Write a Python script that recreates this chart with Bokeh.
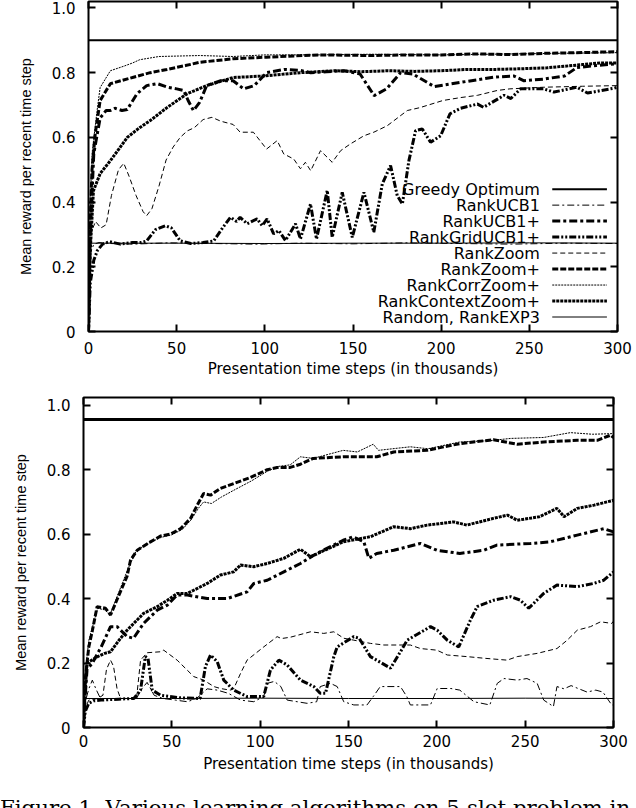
from bokeh.plotting import figure
from bokeh.layouts import column
from bokeh.models import Range1d, LinearAxis, FixedTicker, CustomJSTickFormatter, Div
from bokeh.core.properties import value
from bokeh.embed import file_html
from bokeh.resources import INLINE

# x = presentation time steps (thousands), y = mean reward per recent time step
names = ["Greedy Optimum", "RankUCB1", "RankUCB1+", "RankGridUCB1+", "RankZoom",
         "RankZoom+", "RankCorrZoom+", "RankContextZoom+", "Random, RankEXP3"]
x_ticks = [0, 50, 100, 150, 200, 250, 300]
y_ticks = [0, 0.2, 0.4, 0.6, 0.8, 1.0]
caption = "Figure 1. Various learning algorithms on 5-slot problem in"

# ---- top panel ----
top_greedy_x = [0, 300]
top_greedy_y = [0.9, 0.9]

top_ucb1_x = [0, 1, 3, 6, 12, 25, 45, 70, 95, 120, 150, 180, 210, 240, 270, 300]
top_ucb1_y = [0.0, 0.24, 0.27, 0.275, 0.272, 0.27, 0.274, 0.272, 0.27, 0.273, 0.271, 0.274, 0.272, 0.27, 0.273, 0.272]

top_ucb1p_x = [0, 1, 3, 6.6, 10, 12.4, 15, 19, 22, 27.5, 33, 39, 45, 50, 54, 56.5, 59.5, 63, 67, 75,
               82, 88, 94, 101, 111, 120, 126, 135, 145, 154, 162, 169, 177, 184, 196, 211, 230, 241, 247, 258,
               270, 277, 288, 300]
top_ucb1p_y = [0.0, 0.3, 0.55, 0.66, 0.683, 0.683, 0.69, 0.683, 0.686, 0.735, 0.76, 0.766, 0.755, 0.75, 0.745, 0.714, 0.683, 0.708, 0.76, 0.775,
               0.775, 0.75, 0.76, 0.80, 0.81, 0.807, 0.80, 0.803, 0.806, 0.796, 0.729, 0.75, 0.80, 0.796, 0.757, 0.77, 0.786, 0.79, 0.775, 0.78,
               0.79, 0.816, 0.822, 0.828]

top_grid_x = [0, 1, 3, 5, 8, 12, 18, 25, 30, 33, 38, 43.6, 47, 52, 58, 65, 71, 76, 80.5, 84,
              86, 90, 95.6, 98.5, 101.3, 105, 108, 111.7, 117.4, 120.2, 125.9, 129.3, 135.4, 138.2, 143.9, 149.6, 156.2, 161.8, 166.6, 171.3,
              175.1, 178, 181.7, 185.5, 189.3, 194, 199.7, 205, 211, 220.6, 224, 235.7, 239.5, 245, 258, 264, 277, 283, 298, 300]
top_grid_y = [0.0, 0.15, 0.22, 0.25, 0.27, 0.278, 0.27, 0.275, 0.275, 0.28, 0.315, 0.327, 0.32, 0.28, 0.272, 0.275, 0.28, 0.32, 0.353, 0.34,
              0.353, 0.333, 0.348, 0.327, 0.348, 0.302, 0.312, 0.281, 0.333, 0.286, 0.394, 0.286, 0.436, 0.291, 0.43, 0.291, 0.43, 0.307, 0.456, 0.513,
              0.42, 0.394, 0.528, 0.621, 0.626, 0.585, 0.605, 0.673, 0.69, 0.703, 0.693, 0.73, 0.72, 0.75, 0.75, 0.74, 0.755, 0.737, 0.752, 0.755]

top_zoom_x = [0, 0.5, 1, 4, 7, 10, 13, 17, 20, 23, 27, 31, 33, 36, 40, 44, 48, 52, 56, 60,
              65, 70, 75, 82, 86, 93.5, 101, 107, 110.7, 116.4, 120.2, 123, 126, 131.6, 138.2, 143, 148.6, 156.2, 161.8, 169.4,
              180.8, 188, 201, 211, 220.6, 231.8, 239, 258, 280, 300]
top_zoom_y = [0.0, 0.2, 0.3, 0.34, 0.32, 0.33, 0.42, 0.5, 0.52, 0.48, 0.42, 0.37, 0.358, 0.38, 0.45, 0.53, 0.57, 0.6, 0.62, 0.63,
              0.655, 0.662, 0.65, 0.64, 0.616, 0.616, 0.564, 0.59, 0.549, 0.533, 0.503, 0.523, 0.497, 0.559, 0.523, 0.559, 0.58, 0.605, 0.616, 0.636,
              0.683, 0.692, 0.714, 0.723, 0.73, 0.745, 0.75, 0.755, 0.758, 0.76]

top_zoomp_x = [0, 1, 2, 3.8, 6.6, 12.4, 25.5, 35, 44.5, 55, 63, 82, 101, 131, 160, 180, 200, 220, 240, 260, 280, 300]
top_zoomp_y = [0.0, 0.35, 0.5, 0.61, 0.714, 0.766, 0.786, 0.80, 0.81, 0.822, 0.832, 0.843, 0.848, 0.855, 0.853, 0.855, 0.855, 0.858, 0.856, 0.86, 0.862, 0.865]

top_corr_x = [0, 1, 2, 4.8, 6.6, 12.4, 20, 25, 29, 40, 63, 82, 100, 130, 160, 200, 240, 270, 300]
top_corr_y = [0.0, 0.4, 0.55, 0.68, 0.754, 0.806, 0.82, 0.83, 0.84, 0.85, 0.853, 0.85, 0.855, 0.855, 0.857, 0.855, 0.858, 0.86, 0.862]

top_ctx_x = [0, 1, 2.8, 6.6, 12.4, 22, 29, 35, 44.5, 56, 67, 82, 100, 120, 140, 155, 170, 185, 200, 215,
             230, 245, 260, 270, 280, 290, 300]
top_ctx_y = [0.0, 0.25, 0.435, 0.488, 0.528, 0.6, 0.63, 0.652, 0.692, 0.735, 0.76, 0.785, 0.79, 0.80, 0.806, 0.803, 0.806, 0.804, 0.806, 0.81,
             0.81, 0.812, 0.815, 0.82, 0.825, 0.83, 0.83]

top_rand_x = [0, 50, 100, 150, 200, 250, 300]
top_rand_y = [0.273, 0.273, 0.272, 0.273, 0.273, 0.274, 0.273]

# ---- bottom panel ----
bot_greedy_x = [0, 300]
bot_greedy_y = [0.956, 0.956]

bot_ucb1_x = [0, 1, 3, 5, 7, 9.6, 20, 30, 33, 36, 40, 45, 52, 58.8, 64, 70, 75.7, 82, 88.9, 96.4,
              102, 104, 108, 111.7, 115.3, 126.6, 132, 134, 139.8, 143.6, 147.3, 153, 160.5, 164, 168, 179.4, 183, 185, 196.4, 200.2,
              208, 213, 221, 230, 234.2, 238, 245.5, 251, 256.8, 260.5, 266, 268, 272, 276, 280, 285, 290, 294, 299, 300]
bot_ucb1_y = [0.0, 0.08, 0.12, 0.147, 0.12, 0.09, 0.09, 0.09, 0.12, 0.14, 0.1, 0.09, 0.085, 0.08, 0.09, 0.12, 0.116, 0.106, 0.085, 0.08,
              0.096, 0.137, 0.143, 0.127, 0.085, 0.075, 0.08, 0.127, 0.137, 0.127, 0.08, 0.07, 0.07, 0.096, 0.127, 0.127, 0.096, 0.07, 0.07, 0.121,
              0.121, 0.116, 0.08, 0.07, 0.137, 0.152, 0.147, 0.152, 0.137, 0.085, 0.065, 0.127, 0.12, 0.13, 0.121, 0.11, 0.116, 0.11, 0.07, 0.07]

bot_ucb1p_x = [0, 1, 2, 5, 10, 15.3, 19, 24.7, 28.3, 34, 41.7, 47.5, 53, 58.8, 70, 81.3, 92.6, 96.4, 104, 113.4,
               122.8, 132, 147, 152.6, 158.7, 161.5, 166, 175.6, 190.7, 200, 213, 226.6, 234, 253, 264, 279.5, 294.5, 300]
bot_ucb1p_y = [0.0, 0.1, 0.18, 0.2, 0.25, 0.313, 0.313, 0.282, 0.277, 0.323, 0.364, 0.38, 0.411, 0.411, 0.4, 0.4, 0.421, 0.447, 0.457, 0.483,
               0.509, 0.54, 0.581, 0.592, 0.576, 0.525, 0.54, 0.55, 0.571, 0.55, 0.54, 0.55, 0.566, 0.571, 0.576, 0.597, 0.617, 0.607]

bot_grid_x = [0, 1, 3, 6, 10, 20, 28.5, 32.3, 35, 36.5, 38.9, 43.6, 55, 66, 69, 71.9, 75.7, 79.4, 85, 92.6,
              102, 105.8, 110.6, 115.3, 122.8, 130.4, 134, 137, 141.7, 143.6, 153, 156, 162.4, 173.8, 179.4, 183.2, 196.4, 200.2, 205.9, 212.4,
              219, 222.8, 232.2, 241.7, 247.3, 252, 260.5, 268, 279.5, 288.8, 294.5, 300]
bot_grid_y = [0.0, 0.05, 0.075, 0.083, 0.085, 0.088, 0.09, 0.116, 0.22, 0.215, 0.116, 0.1, 0.092, 0.09, 0.189, 0.225, 0.204, 0.147, 0.116, 0.096,
              0.096, 0.178, 0.209, 0.194, 0.147, 0.127, 0.106, 0.106, 0.22, 0.25, 0.282, 0.277, 0.22, 0.184, 0.235, 0.271, 0.313, 0.302, 0.271, 0.25,
              0.333, 0.375, 0.395, 0.406, 0.395, 0.37, 0.416, 0.442, 0.437, 0.447, 0.457, 0.483]

bot_zoom_x = [0, 1, 3, 8, 11, 13, 15.3, 17, 19, 21, 30, 32.3, 36, 43.6, 45.4, 53, 62.4, 68, 73.8, 77.5,
              83, 85, 88.9, 92.6, 102, 109.6, 112, 117, 128.5, 136, 141.7, 147.3, 153, 162.4, 170, 185, 190.7, 200, 205.9, 217,
              226.6, 239.8, 245.5, 256.8, 268, 273.8, 279.5, 287, 292.7, 299, 300]
bot_zoom_y = [0.0, 0.06, 0.085, 0.09, 0.1, 0.18, 0.209, 0.19, 0.12, 0.09, 0.09, 0.209, 0.232, 0.235, 0.24, 0.209, 0.158, 0.147, 0.127, 0.121,
              0.116, 0.12, 0.168, 0.209, 0.25, 0.282, 0.276, 0.28, 0.297, 0.292, 0.297, 0.277, 0.271, 0.261, 0.256, 0.256, 0.245, 0.24, 0.225, 0.22,
              0.215, 0.209, 0.22, 0.23, 0.245, 0.271, 0.302, 0.313, 0.328, 0.323, 0.33]

bot_zoomp_x = [0, 1, 3, 5, 7.7, 12.5, 15.3, 20, 24.7, 26.6, 30.4, 37.9, 43.6, 49.2, 55, 60.6, 64.4, 68, 71.9, 77.5,
               85, 94.5, 104, 109.6, 117, 122.8, 130, 147, 166, 175.6, 194.5, 213, 232, 245.5, 260.5, 279.5, 290.8, 298.3, 300]
bot_zoomp_y = [0.0, 0.15, 0.25, 0.3, 0.375, 0.37, 0.349, 0.41, 0.47, 0.519, 0.55, 0.576, 0.594, 0.6, 0.617, 0.649, 0.69, 0.726, 0.721, 0.742,
               0.757, 0.776, 0.8, 0.807, 0.807, 0.817, 0.835, 0.84, 0.84, 0.855, 0.86, 0.881, 0.893, 0.879, 0.886, 0.891, 0.891, 0.907, 0.9]

bot_corr_x = [0, 1, 3, 5, 8, 12, 15, 20, 25, 30, 38, 44, 50, 56, 61, 65, 68, 72.4, 78, 85,
              95, 104, 110, 117, 122.8, 130, 147, 155, 164, 167, 175, 185, 195, 213, 230, 241.7, 260.5, 275.6, 288, 300]
bot_corr_y = [0.0, 0.17, 0.27, 0.31, 0.37, 0.365, 0.35, 0.42, 0.49, 0.55, 0.575, 0.59, 0.598, 0.615, 0.645, 0.68, 0.70, 0.695, 0.715, 0.736,
              0.765, 0.795, 0.81, 0.815, 0.84, 0.835, 0.86, 0.855, 0.879, 0.86, 0.865, 0.871, 0.865, 0.886, 0.89, 0.897, 0.9, 0.915, 0.91, 0.912]

bot_ctx_x = [0, 1, 2, 5, 8, 12, 15.3, 20, 24.7, 34, 41.7, 47.5, 53, 58.8, 62.4, 70, 77.5, 85, 88.9, 96.4,
             104, 113.4, 122.8, 128.5, 147, 162.4, 175.6, 185, 194.5, 209.6, 217, 232, 240, 245.5, 258, 268, 272, 279.5, 289, 300]
bot_ctx_y = [0.0, 0.12, 0.2, 0.21, 0.22, 0.23, 0.235, 0.27, 0.302, 0.354, 0.375, 0.395, 0.416, 0.416, 0.426, 0.447, 0.473, 0.483, 0.504, 0.499,
             0.509, 0.525, 0.553, 0.53, 0.576, 0.592, 0.623, 0.617, 0.628, 0.638, 0.628, 0.649, 0.659, 0.643, 0.654, 0.68, 0.654, 0.68, 0.69, 0.705]

bot_rand_x = [0, 50, 100, 150, 200, 250, 300]
bot_rand_y = [0.09, 0.09, 0.091, 0.09, 0.09, 0.091, 0.09]

# line width, dash pattern per method (gnuplot-like)
styles = {
    "Greedy Optimum": (2, "solid"),
    "RankUCB1": (1, "7 3 2 3"),
    "RankUCB1+": (3, "8 3 3 3"),
    "RankGridUCB1+": (3, "7 2 2 2 2 2"),
    "RankZoom": (1, "5 3"),
    "RankZoom+": (3, "6 2"),
    "RankCorrZoom+": (1, "2 1"),
    "RankContextZoom+": (3, "3 1"),
    "Random, RankEXP3": (1, "solid"),
}

top_curves = [
    ("Greedy Optimum", top_greedy_x, top_greedy_y),
    ("Random, RankEXP3", top_rand_x, top_rand_y),
    ("RankUCB1", top_ucb1_x, top_ucb1_y),
    ("RankUCB1+", top_ucb1p_x, top_ucb1p_y),
    ("RankGridUCB1+", top_grid_x, top_grid_y),
    ("RankZoom", top_zoom_x, top_zoom_y),
    ("RankZoom+", top_zoomp_x, top_zoomp_y),
    ("RankCorrZoom+", top_corr_x, top_corr_y),
    ("RankContextZoom+", top_ctx_x, top_ctx_y),
]
bot_curves = [
    ("Greedy Optimum", bot_greedy_x, bot_greedy_y),
    ("Random, RankEXP3", bot_rand_x, bot_rand_y),
    ("RankUCB1", bot_ucb1_x, bot_ucb1_y),
    ("RankUCB1+", bot_ucb1p_x, bot_ucb1p_y),
    ("RankGridUCB1+", bot_grid_x, bot_grid_y),
    ("RankZoom", bot_zoom_x, bot_zoom_y),
    ("RankZoom+", bot_zoomp_x, bot_zoomp_y),
    ("RankCorrZoom+", bot_corr_x, bot_corr_y),
    ("RankContextZoom+", bot_ctx_x, bot_ctx_y),
]

SANS = "DejaVu Sans"


def panel(curves, greedy_width, y_top, height, border, x_standoff, xlabel_standoff, key=False):
    left, right, top, bottom = border
    p = figure(width=636, height=height, x_range=Range1d(0, 300), y_range=Range1d(0, y_top),
               output_backend="svg", toolbar_location=None,
               min_border_left=left, min_border_right=right,
               min_border_top=top, min_border_bottom=bottom,
               x_axis_label="Presentation time steps (in thousands)",
               y_axis_label="Mean reward per recent time step")
    p.grid.visible = False
    p.outline_line_color = "black"
    p.outline_line_width = 2
    p.xaxis.ticker = FixedTicker(ticks=x_ticks)
    p.yaxis.ticker = FixedTicker(ticks=y_ticks)
    p.yaxis.formatter = CustomJSTickFormatter(code="return tick == 0 ? '0' : tick.toFixed(1);")

    # mirrored tick marks on top and right, no labels
    top_ax = LinearAxis(ticker=FixedTicker(ticks=x_ticks))
    right_ax = LinearAxis(ticker=FixedTicker(ticks=y_ticks))
    p.add_layout(top_ax, "above")
    p.add_layout(right_ax, "right")

    for ax in p.axis:
        ax.axis_line_color = None
        ax.major_tick_in = 7
        ax.major_tick_out = 0
        ax.major_tick_line_width = 2
        ax.major_tick_line_color = "black"
        ax.minor_tick_line_color = None
        ax.major_label_text_font = SANS
        ax.major_label_text_font_size = "15px"
        ax.major_label_text_color = "black"
    for ax in (top_ax, right_ax):
        ax.major_label_text_font_size = "0px"
        ax.major_label_text_color = None
        ax.major_label_standoff = 0

    xa = p.below[0]
    xa.major_label_standoff = x_standoff
    xa.axis_label_standoff = xlabel_standoff
    xa.axis_label_text_font = SANS
    xa.axis_label_text_font_size = "15px"
    xa.axis_label_text_font_style = "normal"
    xa.axis_label_text_color = "black"

    ya = p.left[0]
    ya.major_label_standoff = 13
    ya.axis_label_standoff = 15
    ya.axis_label_text_font = "Liberation Sans"
    ya.axis_label_text_font_size = "14.5px"
    ya.axis_label_text_font_style = "normal"
    ya.axis_label_text_color = "black"

    for name, xs, ys in curves:
        w, dash = styles[name]
        if name == "Greedy Optimum":
            w = greedy_width
        p.line(xs, ys, line_color="black", line_width=w, line_dash=dash)

    if key:
        # gnuplot style key: right aligned text, sample line to its right
        key_text_x, key_x0, key_x1 = 256, 263, 294
        key_y_top, key_dy = 0.44, 0.0494
        key_ys = [key_y_top - i * key_dy for i in range(len(names))]
        p.text(x=[key_text_x] * len(names), y=key_ys, text=names,
               text_align="right", text_baseline="middle", text_color="black",
               text_font=value(SANS), text_font_size="16px")
        for name, ky in zip(names, key_ys):
            w, dash = styles[name]
            p.segment(x0=[key_x0], y0=[ky], x1=[key_x1], y1=[ky],
                      line_color="black", line_width=w, line_dash=dash)
    return p


p1 = panel(top_curves, 2, 1.02, 385, (88, 19, 1, 54), 10, 3, key=True)
p2 = panel(bot_curves, 3, 1.024, 411, (83, 23, 12, 69), 7, 5)

cap = Div(text=caption, width=636, height=12, margin=(0, 0, 0, 0),
          styles={"font-family": "DejaVu Serif", "font-size": "21.3px", "color": "black",
                  "white-space": "nowrap", "overflow": "hidden", "line-height": "24px"})

layout = column(p1, column(p2, cap))

open("out.html", "w").write(file_html(layout, INLINE))
